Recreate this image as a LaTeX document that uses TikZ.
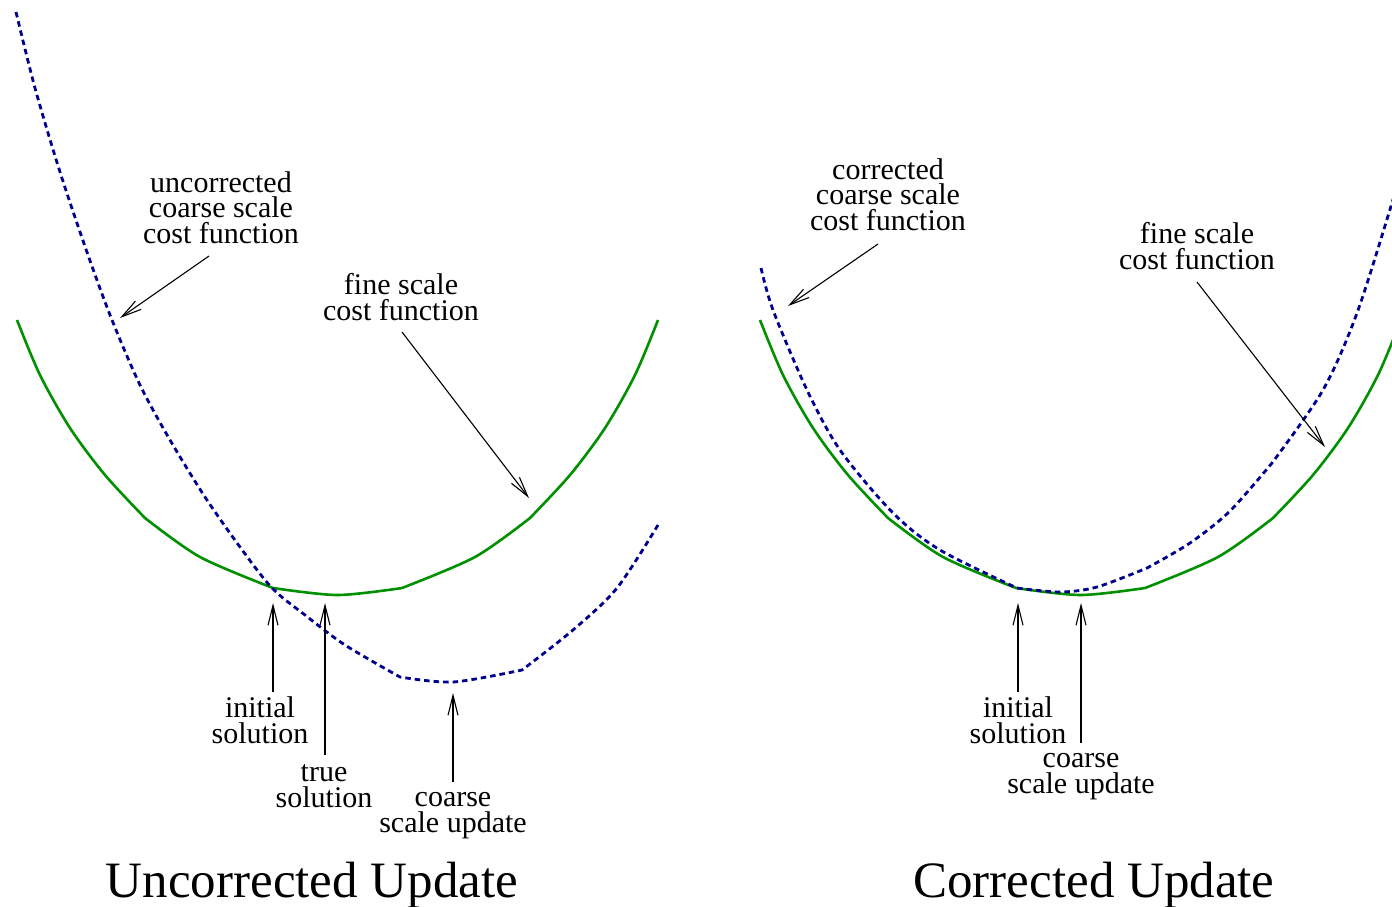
\documentclass[tikz,border=0pt]{standalone}
\usepackage{fontspec}
\setmainfont{Liberation Serif}
\usetikzlibrary{arrows.meta}
\definecolor{fgreen}{RGB}{0,144,0}
\definecolor{cblue}{RGB}{0,0,144}
\begin{document}
\begin{tikzpicture}[x=1pt,y=-1pt,
  fine/.style={draw=fgreen,line width=2.6pt},
  coarse/.style={draw=cblue,line width=2.8pt,dash pattern=on 5.5pt off 4pt},
  lbl/.style={align=center,inner sep=0pt,anchor=base,font=\fontsize{30}{25.5}\selectfont},
  ttl/.style={inner sep=0pt,anchor=base,font=\fontsize{51}{60}\selectfont},
  ptr/.style={-{Straight Barb[length=20pt,width=10pt]},line width=1.1pt}]
\clip (0,0) rectangle (1392,906);
\fill[white] (0,0) rectangle (1392,906);

% ---------- left panel ----------
\draw[fine] plot[smooth] coordinates {(17,320) (40,375) (70,428) (105,475) (145,518)}
  -- plot[smooth] coordinates {(145,518) (200,557) (273,588)}
  -- plot[smooth] coordinates {(273,588) (337.5,595) (402,588)}
  -- plot[smooth] coordinates {(402,588) (475,557) (530,518)}
  -- plot[smooth] coordinates {(530,518) (570,475) (605,428) (635,375) (658,320)};
\draw[coarse] plot[smooth] coordinates {(16,12) (35,88) (60,172) (88,255) (112,320) (140,385) (170,440) (205,497) (240,547) (272,588) (305,615) (345,645) (400,677)}
  -- plot[smooth] coordinates {(400,677) (453,682) (522,670)}
  -- plot[smooth] coordinates {(522,670) (573,630) (617,588) (658,525)};

\node[lbl] (ucL) at (221,243) {uncorrected\\coarse scale\\cost function};
\node[lbl] (fineL) at (401,320) {fine scale\\cost function};
\node[lbl] (initL) at (260,743) {initial\\solution};
\node[lbl] (trueL) at (324,807) {true\\solution};
\node[lbl] (coarseL) at (453,832) {coarse\\scale update};
\node[ttl] (titleL) at (312,897) {Uncorrected Update};

\coordinate (ucS) at (209,256);   \coordinate (ucT) at (120,318);
\coordinate (fLS) at (402,332);   \coordinate (fLT) at (529,498);
\coordinate (iLS) at (273,692);   \coordinate (iLT) at (273,603);
\coordinate (tLS) at (325,755);   \coordinate (tLT) at (325,603);
\coordinate (cLS) at (453,782);   \coordinate (cLT) at (453,693);
\draw[ptr] (ucS) -- (ucT);
\draw[ptr] (fLS) -- (fLT);
\draw[ptr] (iLS) -- (iLT);
\draw[ptr] (tLS) -- (tLT);
\draw[ptr] (cLS) -- (cLT);

% ---------- right panel ----------
\begin{scope}[xshift=743pt]
\draw[fine] plot[smooth] coordinates {(17,320) (40,375) (70,428) (105,475) (145,518)}
  -- plot[smooth] coordinates {(145,518) (200,557) (273,588)}
  -- plot[smooth] coordinates {(273,588) (337.5,595) (402,588)}
  -- plot[smooth] coordinates {(402,588) (475,557) (530,518)}
  -- plot[smooth] coordinates {(530,518) (570,475) (605,428) (635,375) (658,320)};
\end{scope}
\draw[coarse] plot[smooth] coordinates {(761,268) (773,310) (807,390) (840,450) (893,513) (940,550) (1017,588)}
  -- plot[smooth] coordinates {(1017,588) (1060,592) (1097,587) (1147,568)}
  -- plot[smooth] coordinates {(1147,568) (1190,543) (1230,511) (1272,463)}
  -- plot[smooth] coordinates {(1272,463) (1323,390) (1357,313) (1392,203) (1400,175)};

\node[lbl] (corrR) at (888,230) {corrected\\coarse scale\\cost function};
\node[lbl] (fineR) at (1197,269) {fine scale\\cost function};
\node[lbl] (initR) at (1018,743) {initial\\solution};
\node[lbl] (coarseR) at (1081,793) {coarse\\scale update};
\node[ttl] (titleR) at (1094,897) {Corrected Update};

\coordinate (crS) at (878,244);   \coordinate (crT) at (788,306);
\coordinate (fRS) at (1197,282);  \coordinate (fRT) at (1325,447);
\coordinate (iRS) at (1018,692);  \coordinate (iRT) at (1018,603);
\coordinate (cRS) at (1081,743);  \coordinate (cRT) at (1081,603);
\draw[ptr] (crS) -- (crT);
\draw[ptr] (fRS) -- (fRT);
\draw[ptr] (iRS) -- (iRT);
\draw[ptr] (cRS) -- (cRT);
\end{tikzpicture}
\end{document}
